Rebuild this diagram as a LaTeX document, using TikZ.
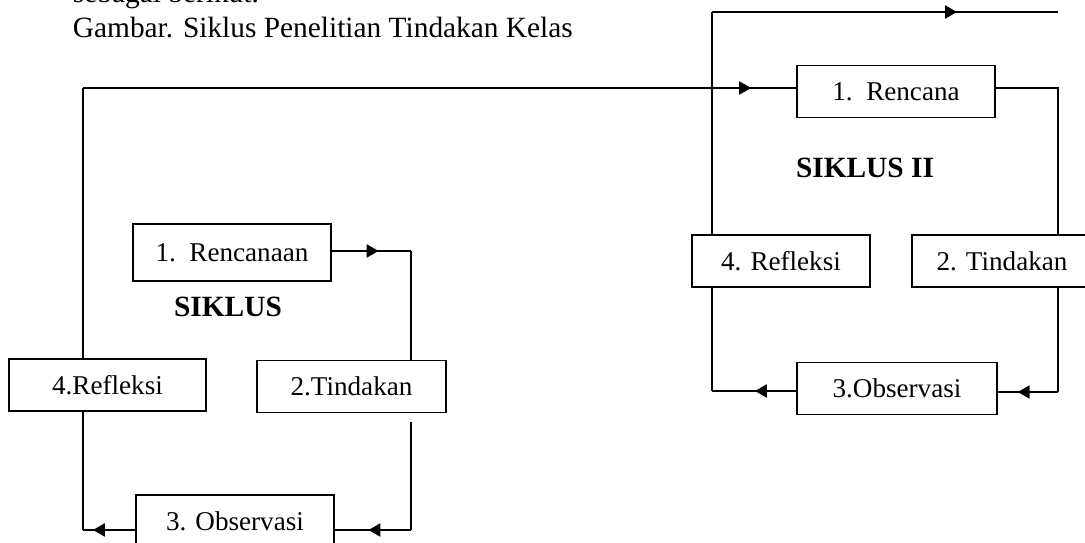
\documentclass[tikz,border=0pt]{standalone}
\usepackage{fontspec}
\setmainfont{Liberation Serif}
\usetikzlibrary{arrows.meta,decorations.markings}
\def\px{0.4425pt}
\begin{document}
\begin{tikzpicture}[x=\px,y=-\px,
		line width=0.8pt,
		box/.style={draw,rectangle,inner sep=0pt,minimum height=52*\px,font=\fontsize{12}{14}\selectfont},
		title/.style={font=\fontsize{13}{15}\selectfont\bfseries},
		capt/.style={anchor=base west,inner sep=0pt,font=\fontsize{13}{15}\selectfont},
		midtip/.style={postaction={decorate},decoration={markings,
				mark=at position #1 with {\arrow{Triangle[length=5.3pt,width=5.8pt]}}}}
		]
		\useasboundingbox (0,0) rectangle (1085,542);
		
		\node[capt](C0) at (72,3){sebagai berikut.};
		\node[capt](C1) at (72,38){Gambar. Siklus Penelitian Tindakan Kelas};
		
		% siklus I
		\node[box, minimum width=198*\px, minimum height=57*\px](R1) at (232,252.5){1.\ \ Rencanaan};
		\node[box, minimum width=197*\px](F1) at (107.5,385){4.Refleksi};
		\node[box, minimum width=189*\px](T1) at (351.5,386.5){2.Tindakan};
		\node[box, minimum width=198*\px](O1) at (235,521){3. Observasi};
		\node[title](S1) at (228,307){SIKLUS};
		
		% siklus II
		\node[box, minimum width=198*\px](R2) at (896,91.5){1.\ \ Rencana};
		\node[box, minimum width=178*\px](F2) at (781,261){4. Refleksi};
		\node[box, minimum width=180*\px](T2) at (1002,261){2. Tindakan};
		\node[box, minimum width=200*\px](O2) at (897,388.5){3.Observasi};
		\node[title](S2) at (865,168){SIKLUS II};
		
		% lines siklus I
		\coordinate (a1) at (411,251);
		\coordinate (a2) at (411,422);
		\coordinate (a3) at (411,530);
		\coordinate (a4) at (83,530);
		\coordinate (a5) at (83,88);
		\draw[midtip=0.59] (R1.east |- a1) -- (a1);
		\draw (a1) -- (a1 |- T1.north);
		\draw (a2) -- (a3);
		\draw[midtip=0.56] (a3) -- (a3 -| O1.east);
		\draw[midtip=0.81] (a4 -| O1.west) -- (a4);
		\draw (a4) -- (a4 |- F1.south);
		\draw (a5 |- F1.north) -- (a5);
		\draw[midtip=0.937] (a5) -- (a5 -| R2.west);
		
		% lines siklus II
		\coordinate (b1) at (712,12);
		\coordinate (b2) at (1058,12);
		\coordinate (b3) at (1058,88);
		\coordinate (b4) at (1058,392);
		\coordinate (b5) at (712,391);
		\draw (b1 |- F2.north) -- (b1);
		\draw[midtip=0.708] (b1) -- (b2);
		\draw (R2.east |- b3) -- (b3) -- (b3 |- T2.north);
		\draw (b3 |- T2.south) -- (b4);
		\draw[midtip=0.67] (b4) -- (b4 -| O2.east);
		\draw[midtip=0.49] (b5 -| O2.west) -- (b5);
		\draw (b5) -- (b5 |- F2.south);
	\end{tikzpicture}
\end{document}
